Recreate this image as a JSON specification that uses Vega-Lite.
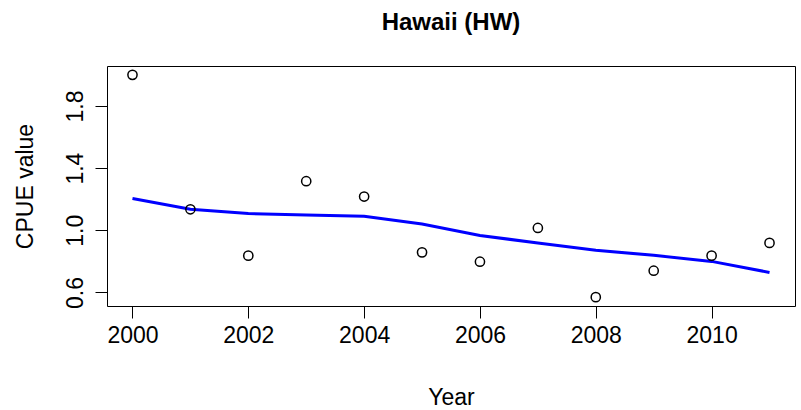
{
  "$schema": "https://vega.github.io/schema/vega-lite/v6.json",
  "width": 688,
  "height": 240,
  "autosize": {"type": "none"},
  "padding": {"left": 107, "top": 66, "right": 6, "bottom": 104},
  "background": "white",
  "config": {
    "font": "Liberation Sans",
    "view": {"stroke": "black", "strokeWidth": 1},
    "axis": {"grid": false, "domain": false, "tickColor": "black", "tickWidth": 1, "labelColor": "black", "titleColor": "black", "labelFont": "Liberation Sans", "titleFont": "Liberation Sans", "titleFontWeight": "normal"}
  },
  "title": {"text": "Hawaii (HW)", "font": "Liberation Sans", "fontSize": 24, "fontWeight": "bold", "color": "black", "anchor": "middle", "frame": "group", "baseline": "alphabetic", "offset": 12},
  "data": {"values": [
    {"Year": 2000, "CPUE": 2.0, "Fit": 1.205},
    {"Year": 2001, "CPUE": 1.135, "Fit": 1.135},
    {"Year": 2002, "CPUE": 0.837, "Fit": 1.108},
    {"Year": 2003, "CPUE": 1.316, "Fit": 1.099},
    {"Year": 2004, "CPUE": 1.217, "Fit": 1.09},
    {"Year": 2005, "CPUE": 0.858, "Fit": 1.041},
    {"Year": 2006, "CPUE": 0.798, "Fit": 0.966},
    {"Year": 2007, "CPUE": 1.015, "Fit": 0.919},
    {"Year": 2008, "CPUE": 0.57, "Fit": 0.871},
    {"Year": 2009, "CPUE": 0.74, "Fit": 0.839},
    {"Year": 2010, "CPUE": 0.837, "Fit": 0.8},
    {"Year": 2011, "CPUE": 0.919, "Fit": 0.729}
  ]},
  "encoding": {
    "x": {"field": "Year", "type": "quantitative",
      "scale": {"domain": [1999.56, 2011.44], "nice": false, "zero": false},
      "axis": {"values": [2000, 2002, 2004, 2006, 2008, 2010], "format": "d", "tickSize": 12, "labelFontSize": 23, "labelPadding": 6, "labelBaseline": "top", "title": "Year", "titleFontSize": 23, "titleY": 98, "titleBaseline": "alphabetic"}}
  },
  "layer": [
    {
      "mark": {"type": "line", "color": "#0000FF", "strokeWidth": 3},
      "encoding": {
        "y": {"field": "Fit", "type": "quantitative",
          "scale": {"domain": [0.513, 2.057], "nice": false, "zero": false},
          "axis": {"values": [0.6, 0.8, 1.0, 1.2, 1.4, 1.6, 1.8, 2.0], "labelExpr": "round(datum.value*10) % 4 == 2 ? format(datum.value, '.1f') : ''", "tickSize": 12, "labelFontSize": 23, "labelAngle": -90, "labelAlign": "center", "labelBaseline": "alphabetic", "labelPadding": 13, "title": "CPUE value", "titleFontSize": 23, "titleAngle": -90, "titleX": -75, "titleY": 120, "titleAlign": "center", "titleBaseline": "alphabetic"}}
      }
    },
    {
      "mark": {"type": "point", "shape": "circle", "filled": false, "color": "black", "strokeWidth": 1.5, "size": 85, "opacity": 1},
      "encoding": {
        "y": {"field": "CPUE", "type": "quantitative"}
      }
    }
  ]
}
